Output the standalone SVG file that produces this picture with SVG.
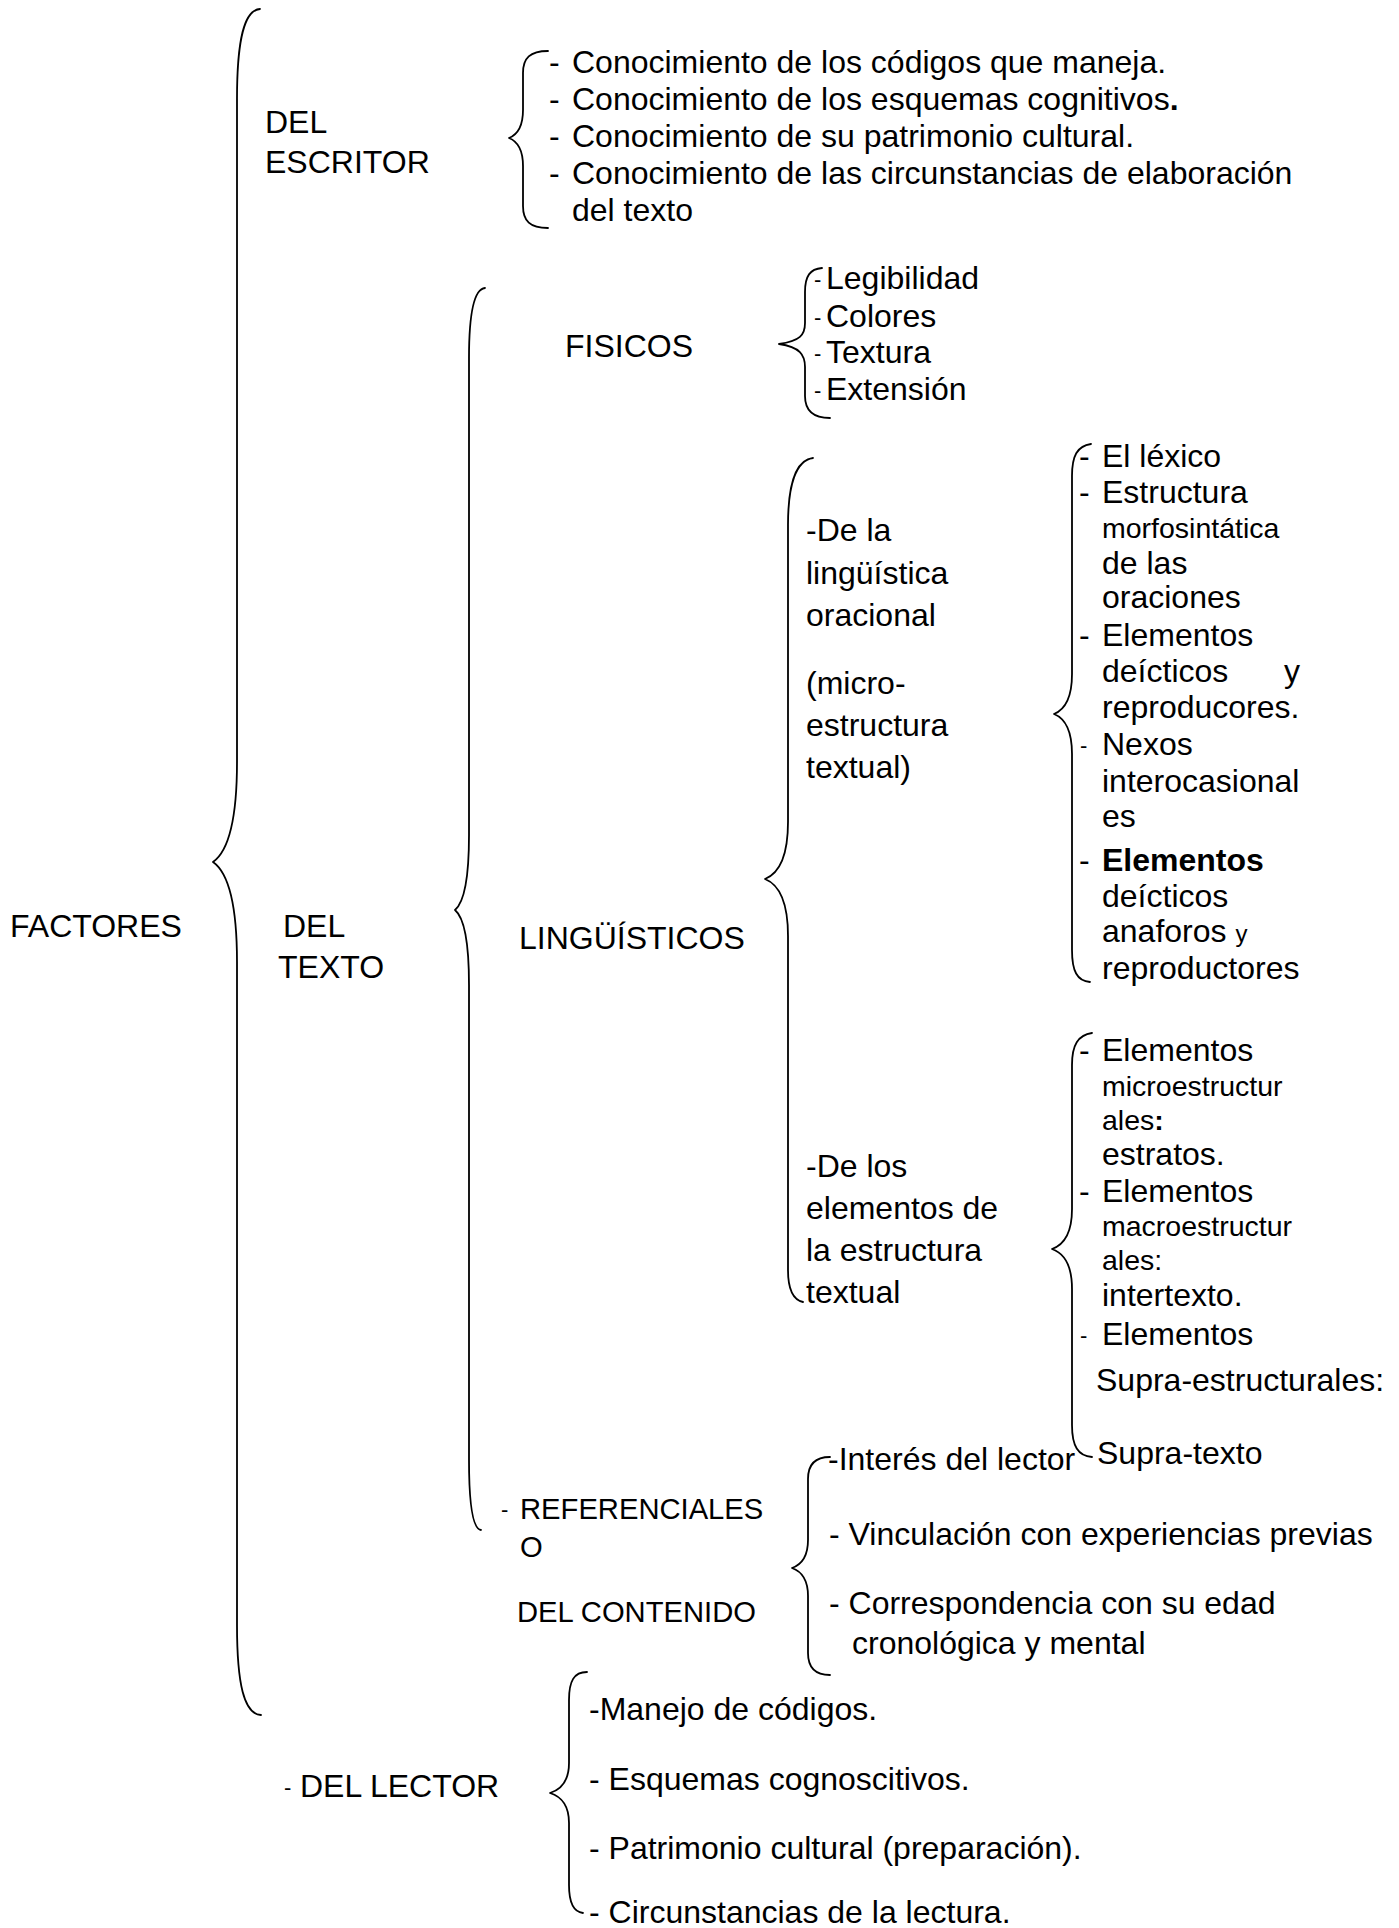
<svg xmlns="http://www.w3.org/2000/svg" width="1399" height="1928" viewBox="0 0 1399 1928">
<style>
text { font-family: "Liberation Sans", Arial, sans-serif; font-size: 32px; fill: #000; }
.s { font-size: 28.5px; }
.r { font-size: 29.2px; }
.d { font-size: 22px; }
.b { font-weight: bold; }
.brace { fill: none; stroke: #000; stroke-width: 1.8; stroke-linecap: round; stroke-linejoin: round; }
</style>
<rect x="0" y="0" width="1399" height="1928" fill="#fff"/>
<g id="connectors">
  <path class="brace" d="M 260,9 C 244,10 237,40 237,99 L 237,762 C 237,800 233,848 213,862 C 233,876 237,924 237,962 L 237,1625 C 237,1684 244,1714 261,1715"/>
  <path class="brace" d="M 548,51 C 530,51 523,58 523,73 L 523,110 C 523,124 519,134 509,138 C 519,142 523,152 523,166 L 523,206 C 523,221 530,228 548,228"/>
  <path class="brace" d="M 485,288 C 474,289 469,312 469,358 L 469,835 C 469,862 467,900 455,910 C 467,920 469,958 469,985 L 469,1460 C 469,1505 473,1529 481,1530"/>
  <path class="brace" d="M 822,268 C 810,269 805,276 805,292 L 805,323 C 805,335 800,341 779,344 C 800,347 805,355 805,367 L 805,396 C 805,410 812,418 830,418"/>
  <path class="brace" d="M 813,458 C 796,460 788,485 788,525 L 788,822 C 788,843 785,871 765,879 C 785,887 788,915 788,936 L 788,1270 C 788,1290 794,1300 803,1302"/>
  <path class="brace" d="M 1091,444 C 1077,446 1072,456 1072,476 L 1072,674 C 1072,688 1069,708 1054,714 C 1069,720 1072,740 1072,754 L 1072,950 C 1072,971 1077,981 1090,982"/>
  <path class="brace" d="M 1092,1033 C 1078,1035 1072,1045 1072,1065 L 1072,1209 C 1072,1223 1069,1243 1052,1249 C 1069,1255 1072,1275 1072,1289 L 1072,1425 C 1072,1446 1078,1456 1092,1457"/>
  <path class="brace" d="M 830,1457 C 815,1457 808,1465 808,1479 L 808,1540 C 808,1550 806,1563 792,1568 C 806,1573 808,1586 808,1596 L 808,1653 C 808,1667 815,1675 830,1675"/>
  <path class="brace" d="M 587,1672 C 574,1672 569,1681 569,1700 L 569,1763 C 569,1774 566,1788 550,1793 C 566,1798 569,1812 569,1823 L 569,1885 C 569,1904 574,1912 583,1913"/>
</g>
<g id="n-factores"><text x="10" y="937">FACTORES</text></g>
<g id="n-del-escritor">
  <text x="265" y="133">DEL</text>
  <text x="265" y="173">ESCRITOR</text>
</g>
<g id="n-escritor-items">
  <text x="549" y="73">-</text><text x="572" y="73">Conocimiento de los códigos que maneja.</text>
  <text x="549" y="110">-</text><text x="572" y="110">Conocimiento de los esquemas cognitivos<tspan class="b">.</tspan></text>
  <text x="549" y="147">-</text><text x="572" y="147">Conocimiento de su patrimonio cultural.</text>
  <text x="549" y="184">-</text><text x="572" y="184">Conocimiento de las circunstancias de elaboración</text>
  <text x="572" y="221">del texto</text>
</g>
<g id="n-del-texto">
  <text x="283" y="937">DEL</text>
  <text x="278" y="978">TEXTO</text>
</g>
<g id="n-fisicos"><text x="565" y="357">FISICOS</text></g>
<g id="n-fisicos-items">
  <text class="d" x="814" y="287">-</text><text x="826" y="289">Legibilidad</text>
  <text class="d" x="814" y="325">-</text><text x="826" y="327">Colores</text>
  <text class="d" x="814" y="361">-</text><text x="826" y="363">Textura</text>
  <text class="d" x="814" y="398">-</text><text x="826" y="400">Extensión</text>
</g>
<g id="n-linguisticos"><text x="519" y="949">LINGÜÍSTICOS</text></g>
<g id="n-oracional">
  <text x="806" y="541">-De la</text>
  <text x="806" y="584">lingüística</text>
  <text x="806" y="626">oracional</text>
  <text x="806" y="694">(micro-</text>
  <text x="806" y="736">estructura</text>
  <text x="806" y="778">textual)</text>
</g>
<g id="n-micro-items">
  <text x="1079" y="467">-</text><text x="1102" y="467">El léxico</text>
  <text x="1079" y="503">-</text><text x="1102" y="503">Estructura</text>
  <text class="s" x="1102" y="538">morfosintática</text>
  <text x="1102" y="574">de las</text>
  <text x="1102" y="608">oraciones</text>
  <text x="1079" y="646">-</text><text x="1102" y="646">Elementos</text>
  <text x="1102" y="682">deícticos</text><text x="1284" y="682">y</text>
  <text x="1102" y="718">reproducores.</text>
  <text class="d" x="1080" y="753">-</text><text x="1102" y="755">Nexos</text>
  <text x="1102" y="792">interocasional</text>
  <text x="1102" y="827">es</text>
  <text x="1079" y="871">-</text><text class="b" x="1102" y="871">Elementos</text>
  <text x="1102" y="907">deícticos</text>
  <text x="1102" y="942">anaforos <tspan font-size="24">y</tspan></text>
  <text x="1102" y="979">reproductores</text>
</g>
<g id="n-estructura-textual">
  <text x="806" y="1177">-De los</text>
  <text x="806" y="1219">elementos de</text>
  <text x="806" y="1261">la estructura</text>
  <text x="806" y="1303">textual</text>
</g>
<g id="n-macro-items">
  <text x="1079" y="1061">-</text><text x="1102" y="1061">Elementos</text>
  <text class="s" x="1102" y="1096">microestructur</text>
  <text class="s" x="1102" y="1130">ales<tspan class="b">:</tspan></text>
  <text x="1102" y="1165">estratos.</text>
  <text x="1079" y="1202">-</text><text x="1102" y="1202">Elementos</text>
  <text class="s" x="1102" y="1236">macroestructur</text>
  <text class="s" x="1102" y="1270">ales:</text>
  <text x="1102" y="1306">intertexto.</text>
  <text class="d" x="1080" y="1343">-</text><text x="1102" y="1345">Elementos</text>
  <text x="1096" y="1391">Supra-estructurales:</text>
  <text x="1097" y="1464">Supra-texto</text>
</g>
<g id="n-referenciales">
  <text class="d" x="501" y="1517">-</text><text class="r" x="520" y="1519">REFERENCIALES</text>
  <text class="r" x="520" y="1557">O</text>
  <text class="r" x="517" y="1622">DEL CONTENIDO</text>
</g>
<g id="n-ref-items">
  <text x="828" y="1470">-Interés del lector</text>
  <text x="829" y="1545">- Vinculación con experiencias previas</text>
  <text x="829" y="1614">- Correspondencia con su edad</text>
  <text x="852" y="1654">cronológica y mental</text>
</g>
<g id="n-del-lector">
  <text class="d" x="284" y="1795">-</text><text x="300" y="1797">DEL LECTOR</text>
</g>
<g id="n-lector-items">
  <text x="589" y="1720">-Manejo de códigos.</text>
  <text x="589" y="1790">- Esquemas cognoscitivos.</text>
  <text x="589" y="1859">- Patrimonio cultural (preparación).</text>
  <text x="589" y="1923">- Circunstancias de la lectura.</text>
</g>
</svg>
